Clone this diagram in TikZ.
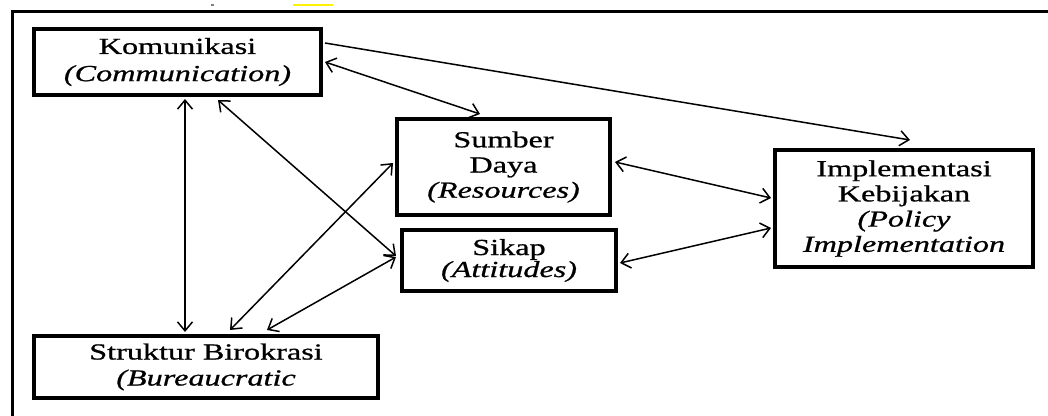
\documentclass[tikz,border=0pt]{standalone}
\usepackage{fontspec}
\setmainfont{Liberation Serif}[FakeStretch=1.4,FakeBold=0.8]
\usetikzlibrary{arrows.meta,calc}

\tikzset{
  box/.style={draw, line width=2pt, rectangle, inner sep=0pt, align=center,
    font=\fontsize{11.5pt}{12.6pt}\selectfont},
  tip/.tip={Straight Barb[length=4.5pt,width=7.5pt,line width=0.75pt]},
  oneway/.style={line width=0.75pt, -tip},
  twoway/.style={line width=0.75pt, tip-tip},
  frame/.style={line width=1.75pt}
}

\begin{document}
\begin{tikzpicture}[x=0.5pt,y=-0.5pt]
\clip (0,0) rectangle (1048,416);
\fill[white] (0,0) rectangle (1048,416);

% marks left over above the frame
\fill[yellow] (293,4) rectangle (333,6.5);
\fill[gray] (211,4) rectangle (214,6);

% outer frame (continues beyond the page on the right and bottom)
\draw[frame] (1060,11.5) -- (12.5,11.5) -- (12.5,430);

% boxes
\node[box, minimum width=143.5pt, minimum height=33pt,
  font=\fontsize{11.5pt}{13.6pt}\selectfont] (kom) at (177.5,62)
  {Komunikasi\\\textit{(Communication)}};
\node[box, minimum width=106.5pt, minimum height=48pt] (sd) at (503.5,167)
  {Sumber\\Daya\\\textit{(Resources)}};
\node[box, minimum width=107pt, minimum height=30.5pt,
  font=\fontsize{11.5pt}{11pt}\selectfont] (sk) at (509,260.5)
  {Sikap\\\textit{(Attitudes)}};
\node[box, minimum width=129pt, minimum height=58.5pt] (imp) at (904,208.5)
  {Implementasi\\Kebijakan\\\textit{(Policy}\\\textit{Implementation}};
\node[box, minimum width=172pt, minimum height=31pt,
  font=\fontsize{11.5pt}{13pt}\selectfont] (sb) at (206,367)
  {Struktur Birokrasi\\\textit{(Bureaucratic}};

% connectors
\draw[oneway] ($(kom.east)+(2,-19)$) -- ($(imp.north)+(6,-8)$);
\draw[twoway] ($(kom.east)+(2,0)$) -- ($(sd.north)+(-23.5,-3)$);
\draw[twoway] ($(kom.south)+(7.5,2)$) -- ($(sb.north)+(-21,-2)$);
\draw[twoway] ($(kom.south)+(40.5,3)$) -- ($(sk.west)+(-4,-4.5)$);
\draw[twoway] ($(sd.west)+(-2,-4)$) -- ($(sb.north)+(24,-4)$);
\draw[twoway] ($(sk.west)+(-4,-3.5)$) -- ($(sb.north)+(61,-4)$);
\draw[twoway] ($(sd.east)+(3,-5)$) -- ($(imp.west)+(-2,-10.5)$);
\draw[twoway] ($(sk.east)+(2,2.5)$) -- ($(imp.west)+(-2,19.5)$);
\end{tikzpicture}
\end{document}
